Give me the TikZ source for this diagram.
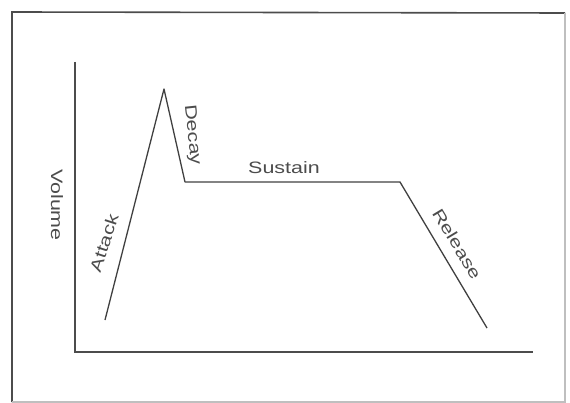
\documentclass[tikz,border=0pt]{standalone}
\usepackage{fontspec}
\setmainfont{Liberation Sans}[FakeStretch=1.3]
\begin{document}
\begin{tikzpicture}[x=1pt,y=-1pt,
  lbl/.style={font=\fontsize{16.5}{18}\selectfont, text=black!70, inner sep=0pt},
  env/.style={draw=black!75, line width=1.3pt, line join=round},
  axis/.style={draw=black!70, line width=1.6pt},
  frm/.style={line width=1.6pt}]
\useasboundingbox (0,0) rectangle (570,403);
% frame
\draw[frm, draw=black!70] (12,402) -- (12,12) -- (565,13);
\draw[frm, draw=black!25] (565,13) -- (565,402) -- (12,402);
% axes
\coordinate (ytop) at (75,62);
\coordinate (orig) at (75,352);
\coordinate (xend) at (533,352);
\draw[axis] (ytop) -- (orig) -- (xend);
% envelope
\coordinate (s) at (105,320);
\coordinate (pk) at (164,89);
\coordinate (de) at (185,182);
\coordinate (se) at (400,182);
\coordinate (re) at (487,328);
\draw[env] (s) -- (pk) -- (de) -- (se) -- (re);
% labels
\node[lbl, rotate=-90] (vol) at (57,205) {Volume};
\node[lbl, rotate=72] (att) at (104,243) {Attack};
\node[lbl, rotate=-84] (dec) at (192,135) {Decay};
\node[lbl] (sus) at (284,168) {Sustain};
\node[lbl, rotate=-59] (rel) at (457,244) {Release};
\end{tikzpicture}
\end{document}
